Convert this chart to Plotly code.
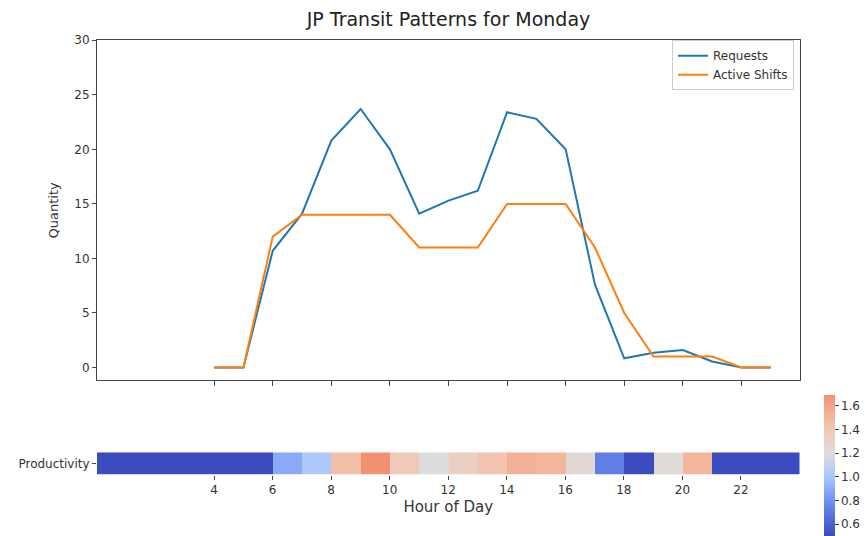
import plotly.graph_objects as go

# Hourly transit figures for Monday
hours = list(range(4, 24))
requests = [0, 0, 10.7, 14.1, 20.8, 23.7, 20.0, 14.1, 15.3, 16.2,
            23.4, 22.8, 20.0, 7.6, 0.85, 1.35, 1.6, 0.55, 0, 0]
active_shifts = [0, 0, 12, 14, 14, 14, 14, 11, 11, 11,
                 15, 15, 15, 11, 5, 1, 1, 1, 0, 0]

# Productivity per hour of day (0..23)
productivity = [0.0, 0.0, 0.0, 0.0, 0.0, 0.0, 0.89, 1.01, 1.45, 1.69,
                1.38, 1.2, 1.33, 1.42, 1.52, 1.5, 1.25, 0.72, 0.17, 1.22,
                1.5, 0.5, 0.0, 0.0]
hour_ticks = list(range(4, 24, 2))
y_ticks = list(range(0, 31, 5))
cbar_ticks = [0.6, 0.8, 1.0, 1.2, 1.4, 1.6]

W, H = 865, 536
FONT = "DejaVu Sans"
TXT = "#333333"


def fx(p):
    return p / W


def fy(p):
    return 1 - p / H


zmin, zmax = 0.5, 1.69
stops = [(0.5, "#3b4cc0"), (0.6, "#4a62d3"), (0.8, "#6f92f3"),
         (1.0, "#aac7fd"), (1.2, "#dddcdc"), (1.4, "#f2c8b4"),
         (1.6, "#f4a486"), (1.69, "#f29072")]
colorscale = [[(v - zmin) / (zmax - zmin), c] for v, c in stops]

fig = go.Figure()
fig.add_trace(go.Scatter(x=hours, y=requests, mode="lines", name="Requests",
                         line=dict(color="#1f77b4", width=2),
                         xaxis="x", yaxis="y"))
fig.add_trace(go.Scatter(x=hours, y=active_shifts, mode="lines",
                         name="Active Shifts",
                         line=dict(color="#ff7f0e", width=2),
                         xaxis="x", yaxis="y"))
fig.add_trace(go.Heatmap(
    x=list(range(len(productivity) + 1)),
    y=["Productivity"],
    z=[productivity],
    zmin=zmin, zmax=zmax,
    colorscale=colorscale,
    xaxis="x2", yaxis="y2",
    showlegend=False,
    colorbar=dict(
        x=fx(824), xanchor="left",
        y=fy(397), yanchor="top",
        lenmode="pixels", len=141,
        thicknessmode="pixels", thickness=11,
        outlinewidth=0,
        ticks="outside", ticklen=4, tickcolor="#444",
        tickvals=cbar_ticks,
        ticktext=[f"{v:.1f}" for v in cbar_ticks],
        tickfont=dict(family=FONT, size=12, color=TXT),
        xpad=0, ypad=0,
    ),
))

x_dom = [fx(97), fx(800)]
fig.update_layout(
    width=W, height=H,
    margin=dict(l=0, r=0, t=0, b=0),
    paper_bgcolor="white", plot_bgcolor="white",
    font=dict(family=FONT, size=12, color=TXT),
    title=dict(text="JP Transit Patterns for Monday",
               x=fx(448.5), xanchor="center",
               y=fy(19), yanchor="middle",
               font=dict(family=FONT, size=19, color="#222")),
    legend=dict(x=fx(794), xanchor="right", y=fy(34), yanchor="top",
                bgcolor="white", bordercolor="#cccccc", borderwidth=1,
                font=dict(family=FONT, size=12, color=TXT),
                itemwidth=30, tracegroupgap=0),
    xaxis=dict(domain=x_dom, range=[0, 24], anchor="y",
               tickvals=hour_ticks, showticklabels=False,
               ticks="outside", ticklen=5, tickcolor="#444",
               showline=True, mirror=True, linecolor="#444", linewidth=1,
               showgrid=False, zeroline=False),
    yaxis=dict(domain=[fy(382), fy(34)], range=[-1.185, 30], anchor="x",
               tickvals=y_ticks,
               tickfont=dict(family=FONT, size=12, color=TXT),
               ticks="outside", ticklen=4, tickcolor="#444",
               showline=True, mirror=True, linecolor="#444", linewidth=1,
               showgrid=False, zeroline=False,
               title=dict(text="Quantity", standoff=12,
                          font=dict(family=FONT, size=13, color=TXT))),
    xaxis2=dict(domain=[fx(97), fx(799.5)], range=[0, 24], anchor="y2",
                tickvals=hour_ticks,
                tickfont=dict(family=FONT, size=12, color=TXT),
                ticks="outside", ticklen=4, tickcolor="#444",
                showline=False, showgrid=False, zeroline=False,
                title=dict(text="Hour of Day", standoff=5,
                           font=dict(family=FONT, size=15, color=TXT))),
    yaxis2=dict(domain=[fy(478.5), fy(455.5)], anchor="x2",
                tickfont=dict(family=FONT, size=12, color=TXT),
                ticks="outside", ticklen=4, tickcolor="#444",
                showline=False, showgrid=False, zeroline=False),
)

fig.write_html("out.html")
